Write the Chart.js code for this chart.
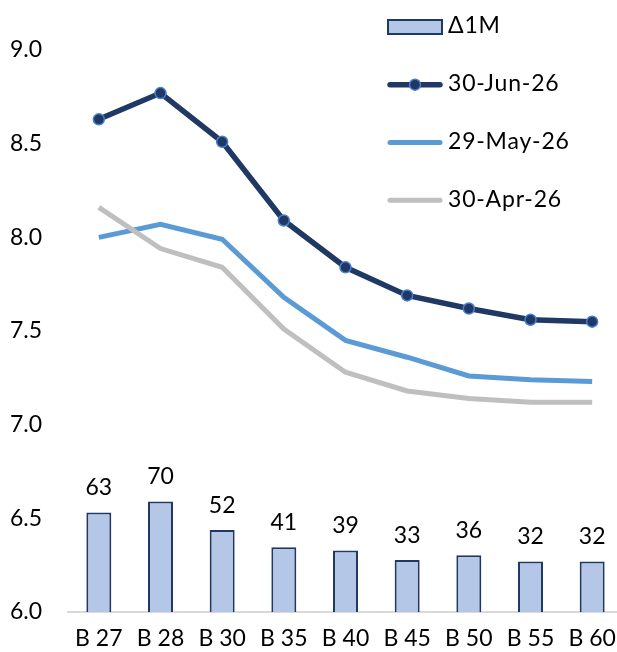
<!DOCTYPE html>
<html>
<head>
<meta charset="utf-8">
<script src="https://cdn.jsdelivr.net/npm/chart.js@4/dist/chart.umd.min.js"></script>
<style>
  html, body { margin: 0; padding: 0; background: #ffffff; overflow: hidden; }
  #frame { position: relative; width: 617px; height: 652px; overflow: hidden; }
  #wrap { position: absolute; left: 0; top: 0; width: 630px; height: 652px; }
</style>
</head>
<body>
<div id="frame"><div id="wrap"><canvas id="chart"></canvas></div></div>
<script>
// Bond tenors
const categories = ['B 27', 'B 28', 'B 30', 'B 35', 'B 40', 'B 45', 'B 50', 'B 55', 'B 60'];

// Yield curves (%)
const jun26 = [8.63, 8.77, 8.51, 8.09, 7.84, 7.69, 7.62, 7.56, 7.55];
const may26 = [8.00, 8.07, 7.99, 7.68, 7.45, 7.36, 7.26, 7.24, 7.23];
const apr26 = [8.16, 7.94, 7.84, 7.51, 7.28, 7.18, 7.14, 7.12, 7.12];

// One-month change (bp)
const delta1m = [63, 70, 52, 41, 39, 33, 36, 32, 32];

// Left axis ticks
const yTicks = [6.0, 6.5, 7.0, 7.5, 8.0, 8.5, 9.0];

const FONT = 'Lato, "Liberation Sans", sans-serif';
const NAVY = '#1f3864';
const MARKER_EDGE = '#4a7fd0';
const LIGHT_BLUE = '#5b9bd5';
const GREY = '#bfbfbf';
const BAR_FILL = '#b4c7e7';

// Value labels above the change bars
const barLabels = {
  id: 'barLabels',
  afterDatasetsDraw(chart) {
    const meta = chart.getDatasetMeta(0);
    const ctx = chart.ctx;
    ctx.save();
    ctx.font = '23px ' + FONT;
    ctx.fillStyle = '#000000';
    ctx.textAlign = 'center';
    ctx.textBaseline = 'bottom';
    meta.data.forEach((el, i) => {
      ctx.fillText(String(delta1m[i]), el.x, el.y - 13);
    });
    ctx.restore();
  }
};

// Stacked legend in the top-right corner
const sideLegend = {
  id: 'sideLegend',
  afterDraw(chart) {
    const ctx = chart.ctx;
    const x0 = 388, x1 = 442, tx = 448;
    const rows = [27, 84.7, 142.5, 200.3];
    ctx.save();
    ctx.font = '23px ' + FONT;
    ctx.letterSpacing = '0.8px';
    ctx.textAlign = 'left';
    ctx.textBaseline = 'middle';
    chart.data.datasets.forEach((ds, i) => {
      const y = rows[i];
      if (ds.type === 'bar') {
        ctx.fillStyle = BAR_FILL;
        ctx.fillRect(x0, y - 7, x1 - x0, 14);
        ctx.strokeStyle = NAVY;
        ctx.lineWidth = 2;
        ctx.strokeRect(x0, y - 7, x1 - x0, 14);
      } else {
        ctx.strokeStyle = ds.borderColor;
        ctx.lineWidth = ds.borderWidth;
        ctx.lineCap = 'round';
        ctx.beginPath();
        ctx.moveTo(x0 + 2, y);
        ctx.lineTo(x1 - 2, y);
        ctx.stroke();
        if (ds.pointRadius > 0) {
          ctx.beginPath();
          ctx.arc((x0 + x1) / 2, y, ds.pointRadius, 0, Math.PI * 2);
          ctx.fillStyle = ds.pointBackgroundColor;
          ctx.fill();
          ctx.lineWidth = ds.pointBorderWidth;
          ctx.strokeStyle = ds.pointBorderColor;
          ctx.stroke();
        }
      }
      ctx.fillStyle = '#000000';
      ctx.fillText(ds.label, tx, y - 1);
    });
    ctx.restore();
  }
};

new Chart(document.getElementById('chart'), {
  data: {
    labels: categories,
    datasets: [
      {
        type: 'bar', label: 'Δ1M', data: delta1m, yAxisID: 'y2',
        backgroundColor: BAR_FILL, borderColor: NAVY, borderWidth: 2,
        barPercentage: 0.81, categoryPercentage: 0.5, order: 5
      },
      {
        type: 'line', label: '30-Jun-26', data: jun26, yAxisID: 'y',
        borderColor: NAVY, borderWidth: 5.5,
        pointRadius: 5.5, pointBackgroundColor: NAVY,
        pointBorderColor: MARKER_EDGE, pointBorderWidth: 1.5,
        pointHoverRadius: 5.5, tension: 0, order: 1
      },
      {
        type: 'line', label: '29-May-26', data: may26, yAxisID: 'y',
        borderColor: LIGHT_BLUE, borderWidth: 5, pointRadius: 0,
        tension: 0, order: 3
      },
      {
        type: 'line', label: '30-Apr-26', data: apr26, yAxisID: 'y',
        borderColor: GREY, borderWidth: 5, pointRadius: 0,
        tension: 0, order: 2
      }
    ]
  },
  options: {
    responsive: true,
    maintainAspectRatio: false,
    animation: false,
    events: [],
    layout: { padding: { left: 0, right: 2, top: 50, bottom: 0 } },
    plugins: { legend: { display: false }, tooltip: { enabled: false } },
    scales: {
      x: {
        grid: { display: false },
        border: { display: true, color: '#d9d9d9', width: 2 },
        ticks: { color: '#000000', font: { family: FONT, size: 23 }, padding: 5, maxRotation: 0, autoSkip: false },
        afterFit(scale) { scale.height = 40; }
      },
      y: {
        position: 'left',
        min: 6, max: 9,
        grid: { display: false },
        border: { display: false },
        afterBuildTicks(scale) { scale.ticks = yTicks.map(v => ({ value: v })); },
        ticks: {
          color: '#000000', font: { family: FONT, size: 23 }, padding: 18,
          callback: v => Number(v).toFixed(1)
        },
        afterFit(scale) { scale.width = 68; }
      },
      y2: {
        position: 'right',
        display: false,
        min: 0, max: 356
      }
    }
  },
  plugins: [barLabels, sideLegend]
});
</script>
</body>
</html>
